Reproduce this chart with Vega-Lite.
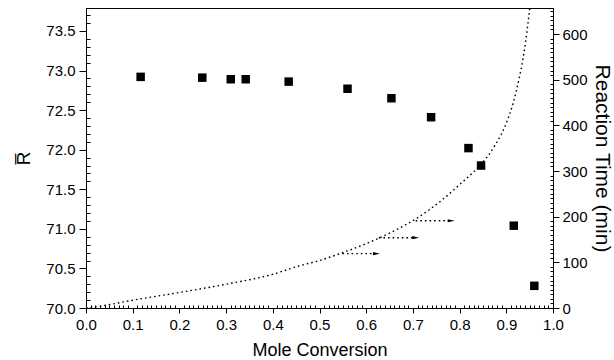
{
  "$schema": "https://vega.github.io/schema/vega-lite/v6.json",
  "width": 467,
  "height": 300,
  "autosize": "none",
  "padding": {"left": 86, "top": 8, "right": 61, "bottom": 52},
  "background": "white",
  "config": {
    "view": {"stroke": "black", "strokeWidth": 1},
    "axis": {
      "domainColor": "black", "tickColor": "black", "labelColor": "black", "titleColor": "black",
      "labelFont": "Liberation Sans", "titleFont": "Liberation Sans",
      "labelFontSize": 15, "titleFontSize": 18, "titleFontWeight": "normal", "grid": false
    }
  },
  "datasets": {
    "sq": [
      {"x": 0.117, "R": 72.92},
      {"x": 0.249, "R": 72.91},
      {"x": 0.310, "R": 72.89},
      {"x": 0.342, "R": 72.89},
      {"x": 0.434, "R": 72.86},
      {"x": 0.560, "R": 72.77},
      {"x": 0.654, "R": 72.65},
      {"x": 0.739, "R": 72.41},
      {"x": 0.819, "R": 72.02},
      {"x": 0.846, "R": 71.80},
      {"x": 0.916, "R": 71.04},
      {"x": 0.960, "R": 70.28}
    ],
    "curve": [
      {"x": 0.0, "t": 0},
      {"x": 0.03, "t": 4},
      {"x": 0.1, "t": 17},
      {"x": 0.2, "t": 34},
      {"x": 0.3, "t": 52},
      {"x": 0.4, "t": 74},
      {"x": 0.456, "t": 92},
      {"x": 0.5, "t": 104},
      {"x": 0.549, "t": 121},
      {"x": 0.6, "t": 141},
      {"x": 0.65, "t": 164},
      {"x": 0.706, "t": 195},
      {"x": 0.763, "t": 237},
      {"x": 0.802, "t": 272},
      {"x": 0.83, "t": 298},
      {"x": 0.847, "t": 316},
      {"x": 0.875, "t": 355},
      {"x": 0.9, "t": 405},
      {"x": 0.915, "t": 450},
      {"x": 0.928, "t": 505},
      {"x": 0.938, "t": 560},
      {"x": 0.946, "t": 620},
      {"x": 0.952, "t": 672}
    ],
    "arrows": [
      {"x": 0.549, "x2": 0.622, "t": 119},
      {"x": 0.627, "x2": 0.706, "t": 154},
      {"x": 0.706, "x2": 0.782, "t": 191}
    ]
  },
  "layer": [
    {
      "data": {"name": "sq"},
      "mark": {"type": "point", "shape": "square", "filled": true, "color": "black", "opacity": 1, "size": 72},
      "encoding": {
        "x": {"field": "x", "type": "quantitative", "scale": {"domain": [0, 1], "nice": false},
          "axis": {"orient": "bottom", "tickCount": 100,
            "labelExpr": "abs(datum.value*10 - round(datum.value*10)) < 0.001 ? format(datum.value, '.1f') : ''",
            "tickSize": {"condition": {"test": "abs(datum.value*10 - round(datum.value*10)) < 0.001", "value": 5}, "value": -3},
            "labelPadding": 4, "title": "Mole Conversion", "titlePadding": 9, "labelFlush": false, "labelOverlap": false}},
        "y": {"field": "R", "type": "quantitative", "scale": {"domain": [70, 73.79], "nice": false, "zero": false},
          "axis": {"orient": "left",
            "values": [70, 70.1, 70.2, 70.3, 70.4, 70.5, 70.6, 70.7, 70.8, 70.9, 71, 71.1, 71.2, 71.3, 71.4, 71.5, 71.6, 71.7, 71.8, 71.9, 72, 72.1, 72.2, 72.3, 72.4, 72.5, 72.6, 72.7, 72.8, 72.9, 73, 73.1, 73.2, 73.3, 73.4, 73.5, 73.6, 73.7],
            "labelExpr": "abs(datum.value*2 - round(datum.value*2)) < 0.001 ? format(datum.value, '.1f') : ''",
            "tickSize": {"condition": {"test": "abs(datum.value*2 - round(datum.value*2)) < 0.001", "value": 7}, "value": -4},
            "labelPadding": 4, "title": "R̅", "titleFontSize": 19, "titlePadding": 12, "labelFlush": false, "labelOverlap": false}}
      }
    },
    {
      "data": {"name": "curve"},
      "mark": {"type": "line", "color": "black", "strokeWidth": 1.4, "strokeDash": [1.6, 3], "clip": true, "interpolate": "monotone"},
      "encoding": {
        "x": {"field": "x", "type": "quantitative", "scale": {"domain": [0, 1], "nice": false}, "axis": null},
        "y": {"field": "t", "type": "quantitative", "scale": {"domain": [0, 657], "nice": false},
          "axis": {"orient": "right", "tickCount": 66,
            "labelExpr": "abs(datum.value/100 - round(datum.value/100)) < 0.001 ? format(datum.value, 'd') : ''",
            "tickSize": {"condition": {"test": "abs(datum.value/100 - round(datum.value/100)) < 0.001", "value": 6}, "value": -3},
            "labelPadding": 3, "title": "Reaction Time (min)", "titleFontSize": 21, "titlePadding": 4, "labelFlush": false, "labelOverlap": false}}
      }
    },
    {
      "data": {"name": "arrows"},
      "mark": {"type": "rule", "color": "black", "strokeWidth": 1.4, "strokeDash": [1.6, 3]},
      "encoding": {
        "x": {"field": "x", "type": "quantitative", "scale": {"domain": [0, 1], "nice": false}, "axis": null},
        "x2": {"field": "x2"},
        "y": {"field": "t", "type": "quantitative", "scale": {"domain": [0, 657], "nice": false}, "axis": null}
      }
    },
    {
      "data": {"name": "arrows"},
      "mark": {"type": "point", "shape": "M-1,-0.45L1,0L-1,0.45Z", "filled": true, "color": "black", "opacity": 1, "size": 49},
      "encoding": {
        "x": {"field": "x2", "type": "quantitative", "scale": {"domain": [0, 1], "nice": false}, "axis": null},
        "y": {"field": "t", "type": "quantitative", "scale": {"domain": [0, 657], "nice": false}, "axis": null}
      }
    }
  ],
  "resolve": {"scale": {"x": "independent", "y": "independent"}, "axis": {"x": "independent", "y": "independent"}}
}
